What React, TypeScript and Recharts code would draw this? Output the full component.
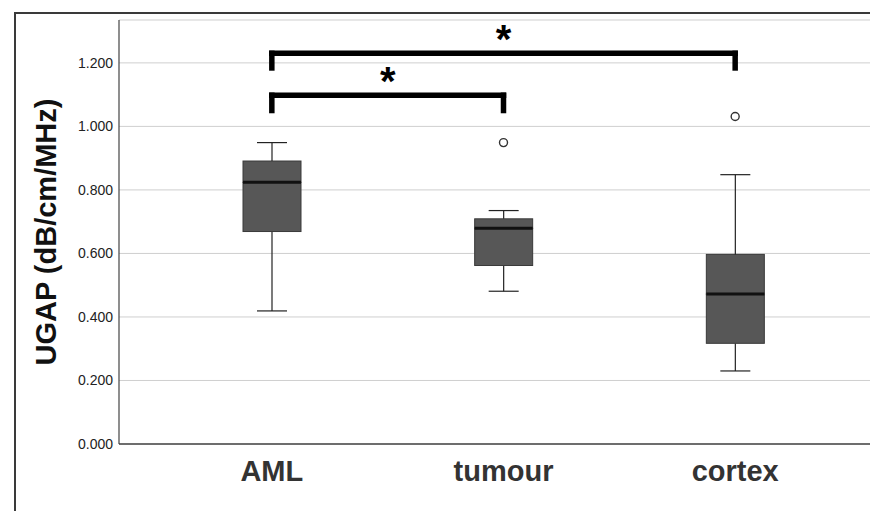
import { ComposedChart, Bar, Scatter, XAxis, YAxis, CartesianGrid, ReferenceLine } from "recharts";

const groups = ["AML", "tumour", "cortex"];
const minValues = [0.419, 0.481, 0.23];
const q1Values = [0.669, 0.562, 0.317];
const medianValues = [0.824, 0.679, 0.472];
const q3Values = [0.891, 0.709, 0.597];
const maxValues = [0.949, 0.735, 0.848];
const outlierValues: (number | null)[] = [null, 0.949, 1.031];
const yTicks = [0, 0.2, 0.4, 0.6, 0.8, 1.0, 1.2];

// significance brackets: from / to group, bar height, leg end
const bracketFrom = ["AML", "AML"];
const bracketTo = ["tumour", "cortex"];
const bracketTop = [1.098, 1.23];
const bracketLeg = [1.05, 1.184];

const data = groups.map((name, i) => ({
  name,
  base: minValues[i],
  lowWhisker: q1Values[i] - minValues[i],
  lowBox: medianValues[i] - q1Values[i],
  highBox: q3Values[i] - medianValues[i],
  highWhisker: maxValues[i] - q3Values[i],
  outlier: outlierValues[i],
}));

const FONT = "'Liberation Sans', Arial, sans-serif";
const BOX_FILL = "#575757";

const whisker = (cap: "top" | "bottom") => (props: any) => {
  const { x, y, width, height } = props;
  const cx = x + width / 2;
  const capY = cap === "top" ? y : y + height;
  return (
    <g>
      <line x1={cx} x2={cx} y1={y} y2={y + height} stroke="#222" strokeWidth={1.2} />
      <line x1={cx - 15} x2={cx + 15} y1={capY} y2={capY} stroke="#222" strokeWidth={1.2} />
    </g>
  );
};

const box = (withMedian: boolean) => (props: any) => {
  const { x, y, width, height } = props;
  return (
    <g>
      <rect x={x} y={y} width={width} height={height} fill={BOX_FILL} stroke="#3a3a3a" strokeWidth={1} />
      {withMedian && <line x1={x} x2={x + width} y1={y + height} y2={y + height} stroke="#111" strokeWidth={3} />}
    </g>
  );
};

const outlierShape = (props: any) => {
  const { cx, cy, payload } = props;
  if (payload == null || payload.outlier == null || !isFinite(cy)) return <g />;
  return <circle cx={cx} cy={cy} r={4} fill="#fff" stroke="#333" strokeWidth={1.4} />;
};

export default function App() {
  return (
    <div style={{ position: "relative", width: 870, height: 511, marginBottom: -8, overflow: "hidden", background: "#fff" }}>
      <div style={{ position: "absolute", left: 6, top: 4, width: 1000, height: 700, borderTop: "2px solid #3a3a3a", borderLeft: "2px solid #3a3a3a" }} />
      <ComposedChart width={870} height={503} data={data} margin={{ top: 12, right: 0, left: 0, bottom: 7 }} style={{ position: "absolute", left: 0, top: 0 }}>
        <CartesianGrid vertical={false} stroke="#cfcfcf" strokeWidth={1} />
        <XAxis dataKey="name" type="category" height={60} padding={{ left: 37, right: 27 }}
          tickLine={false} tickSize={0} tickMargin={16} stroke="#444" strokeWidth={1.5}
          tick={{ fontSize: 29, fontWeight: "bold", fill: "#333", fontFamily: FONT }} />
        <YAxis type="number" domain={[0, 1.335]} ticks={yTicks} width={111} interval={0}
          tickFormatter={(v: number) => v.toFixed(3)}
          tickLine={false} tickSize={0} tickMargin={6} stroke="#444" strokeWidth={1.2}
          tick={{ fontSize: 14, fill: "#222", fontFamily: FONT }}
          label={{
            content: ({ viewBox }: any) => {
              const cx = viewBox.x + 38;
              const cy = viewBox.y + viewBox.height / 2;
              return (
                <text x={cx} y={cy} transform={`rotate(-90 ${cx} ${cy})`} textAnchor="middle" dominantBaseline="central"
                  fontSize={29} fontWeight="bold" fill="#111" fontFamily={FONT}>UGAP (dB/cm/MHz)</text>
              );
            },
          }} />
        <Bar dataKey="base" stackId="a" barSize={58} fill="none" shape={() => <g />} isAnimationActive={false} />
        <Bar dataKey="lowWhisker" stackId="a" barSize={58} shape={whisker("bottom")} isAnimationActive={false} />
        <Bar dataKey="lowBox" stackId="a" barSize={58} shape={box(false)} isAnimationActive={false} />
        <Bar dataKey="highBox" stackId="a" barSize={58} shape={box(true)} isAnimationActive={false} />
        <Bar dataKey="highWhisker" stackId="a" barSize={58} shape={whisker("top")} isAnimationActive={false} />
        <Scatter dataKey="outlier" shape={outlierShape} isAnimationActive={false} />
        {bracketFrom.map((from, i) => (
          <ReferenceLine key={`top-${i}`} segment={[{ x: from, y: bracketTop[i] }, { x: bracketTo[i], y: bracketTop[i] }]}
            stroke="#000" strokeWidth={5.5} strokeLinecap="square"
            label={{ value: "*", position: "top", offset: 0, fontSize: 40, fontWeight: "bold", fill: "#000", fontFamily: FONT }} />
        ))}
        {bracketFrom.map((from, i) => (
          <ReferenceLine key={`l-${i}`} segment={[{ x: from, y: bracketLeg[i] }, { x: from, y: bracketTop[i] }]}
            stroke="#000" strokeWidth={5.5} strokeLinecap="square" />
        ))}
        {bracketTo.map((to, i) => (
          <ReferenceLine key={`r-${i}`} segment={[{ x: to, y: bracketLeg[i] }, { x: to, y: bracketTop[i] }]}
            stroke="#000" strokeWidth={5.5} strokeLinecap="square" />
        ))}
      </ComposedChart>
    </div>
  );
}
